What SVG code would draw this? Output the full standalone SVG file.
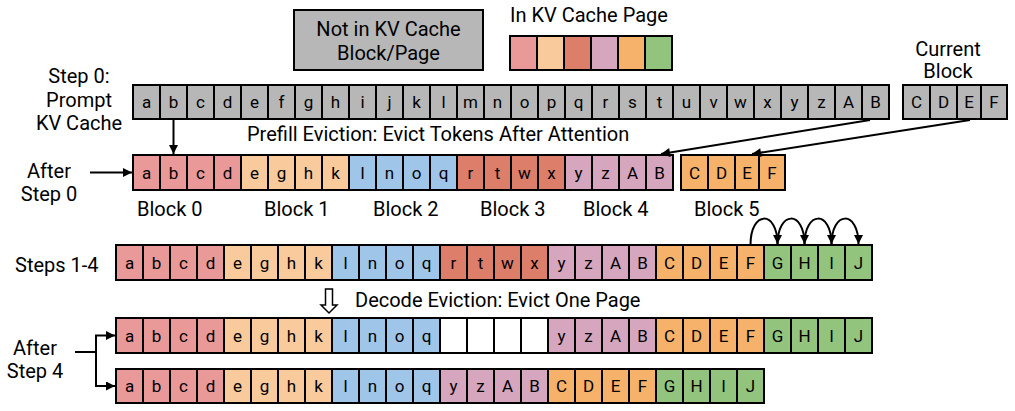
<svg xmlns="http://www.w3.org/2000/svg" width="1015" height="411" viewBox="0 0 1015 411">
<defs>
<style>
text{font-family:Roboto,"Liberation Sans",sans-serif;fill:#000}
.lbl{font-size:20px}
.c text{font-size:17px;text-anchor:middle}
.c rect{stroke:#000;stroke-width:2}
.gy{fill:#b7b7b7}.pk{fill:#ea9999}.lo{fill:#f9cb9c}.bl{fill:#9fc5e8}.rd{fill:#dd7e6b}.pu{fill:#d5a6bd}.or{fill:#f6b26b}.gr{fill:#93c47d}.wh{fill:#fff}
.ln{stroke:#000;stroke-width:2;fill:none}
</style>
<marker id="ah" viewBox="0 0 10 10" refX="10" refY="5" markerWidth="11" markerHeight="9" markerUnits="userSpaceOnUse" orient="auto"><path d="M0,0 L10,5 L0,10 z" fill="#000"/></marker>
</defs>
<rect width="1015" height="411" fill="#fff"/>

<g id="legend-not">
<rect x="294" y="10" width="189" height="60" class="gy" stroke="#000" stroke-width="2"/>
<text class="lbl" x="388.5" y="36" text-anchor="middle">Not in KV Cache</text>
<text class="lbl" x="388.5" y="60" text-anchor="middle">Block/Page</text>
</g>
<g id="legend-in" class="c">
<text class="lbl" x="510" y="22" style="font-size:20px;text-anchor:start">In KV Cache Page</text>
<rect x="510" y="36" width="27" height="34" class="pk"/>
<rect x="537" y="36" width="27" height="34" class="lo"/>
<rect x="564" y="36" width="27" height="34" class="rd"/>
<rect x="591" y="36" width="27" height="34" class="pu"/>
<rect x="618" y="36" width="27" height="34" class="or"/>
<rect x="645" y="36" width="27" height="34" class="gr"/>
</g>

<g id="labels">
<text class="lbl" x="79" y="83" text-anchor="middle">Step 0:</text>
<text class="lbl" x="79" y="107" text-anchor="middle">Prompt</text>
<text class="lbl" x="79" y="130" text-anchor="middle">KV Cache</text>
<text class="lbl" x="49" y="178" text-anchor="middle">After</text>
<text class="lbl" x="49" y="201" text-anchor="middle">Step 0</text>
<text class="lbl" x="948" y="56" text-anchor="middle">Current</text>
<text class="lbl" x="948" y="78" text-anchor="middle">Block</text>
<text class="lbl" x="247" y="141">Prefill Eviction: Evict Tokens After Attention</text>
<text class="lbl" x="137" y="216">Block 0</text>
<text class="lbl" x="264" y="216">Block 1</text>
<text class="lbl" x="373" y="216">Block 2</text>
<text class="lbl" x="480" y="216">Block 3</text>
<text class="lbl" x="583" y="216">Block 4</text>
<text class="lbl" x="694" y="216">Block 5</text>
<text class="lbl" x="15" y="272">Steps 1-4</text>
<text class="lbl" x="355" y="307">Decode Eviction: Evict One Page</text>
<text class="lbl" x="35" y="355" text-anchor="middle">After</text>
<text class="lbl" x="35" y="378" text-anchor="middle">Step 4</text>
</g>

<g id="row-prompt" class="c">
<rect x="133" y="85" width="27" height="34" class="gy"/><text x="146.5" y="108">a</text>
<rect x="160" y="85" width="27" height="34" class="gy"/><text x="173.5" y="108">b</text>
<rect x="187" y="85" width="27" height="34" class="gy"/><text x="200.5" y="108">c</text>
<rect x="214" y="85" width="27" height="34" class="gy"/><text x="227.5" y="108">d</text>
<rect x="241" y="85" width="27" height="34" class="gy"/><text x="254.5" y="108">e</text>
<rect x="268" y="85" width="27" height="34" class="gy"/><text x="281.5" y="108">f</text>
<rect x="295" y="85" width="27" height="34" class="gy"/><text x="308.5" y="108">g</text>
<rect x="322" y="85" width="27" height="34" class="gy"/><text x="335.5" y="108">h</text>
<rect x="349" y="85" width="27" height="34" class="gy"/><text x="362.5" y="108">i</text>
<rect x="376" y="85" width="27" height="34" class="gy"/><text x="389.5" y="108">j</text>
<rect x="403" y="85" width="27" height="34" class="gy"/><text x="416.5" y="108">k</text>
<rect x="430" y="85" width="27" height="34" class="gy"/><text x="443.5" y="108">l</text>
<rect x="457" y="85" width="27" height="34" class="gy"/><text x="470.5" y="108">m</text>
<rect x="484" y="85" width="27" height="34" class="gy"/><text x="497.5" y="108">n</text>
<rect x="511" y="85" width="27" height="34" class="gy"/><text x="524.5" y="108">o</text>
<rect x="538" y="85" width="27" height="34" class="gy"/><text x="551.5" y="108">p</text>
<rect x="565" y="85" width="27" height="34" class="gy"/><text x="578.5" y="108">q</text>
<rect x="592" y="85" width="27" height="34" class="gy"/><text x="605.5" y="108">r</text>
<rect x="619" y="85" width="27" height="34" class="gy"/><text x="632.5" y="108">s</text>
<rect x="646" y="85" width="27" height="34" class="gy"/><text x="659.5" y="108">t</text>
<rect x="673" y="85" width="27" height="34" class="gy"/><text x="686.5" y="108">u</text>
<rect x="700" y="85" width="27" height="34" class="gy"/><text x="713.5" y="108">v</text>
<rect x="727" y="85" width="27" height="34" class="gy"/><text x="740.5" y="108">w</text>
<rect x="754" y="85" width="27" height="34" class="gy"/><text x="767.5" y="108">x</text>
<rect x="781" y="85" width="27" height="34" class="gy"/><text x="794.5" y="108">y</text>
<rect x="808" y="85" width="27" height="34" class="gy"/><text x="821.5" y="108">z</text>
<rect x="835" y="85" width="27" height="34" class="gy"/><text x="848.5" y="108">A</text>
<rect x="862" y="85" width="27" height="34" class="gy"/><text x="875.5" y="108">B</text>
</g>
<g id="current-block" class="c">
<rect x="903" y="85" width="27" height="34" class="gy"/><text x="916.5" y="108">C</text>
<rect x="930" y="85" width="27" height="34" class="gy"/><text x="943.5" y="108">D</text>
<rect x="957" y="85" width="24" height="34" class="gy"/><text x="969" y="108">E</text>
<rect x="981" y="85" width="26" height="34" class="gy"/><text x="994" y="108">F</text>
</g>

<g id="row-after0" class="c">
<rect x="133" y="155" width="27" height="35" class="pk"/><text x="146.5" y="178.5">a</text>
<rect x="160" y="155" width="27" height="35" class="pk"/><text x="173.5" y="178.5">b</text>
<rect x="187" y="155" width="27" height="35" class="pk"/><text x="200.5" y="178.5">c</text>
<rect x="214" y="155" width="27" height="35" class="pk"/><text x="227.5" y="178.5">d</text>
<rect x="241" y="155" width="27" height="35" class="lo"/><text x="254.5" y="178.5">e</text>
<rect x="268" y="155" width="27" height="35" class="lo"/><text x="281.5" y="178.5">g</text>
<rect x="295" y="155" width="27" height="35" class="lo"/><text x="308.5" y="178.5">h</text>
<rect x="322" y="155" width="27" height="35" class="lo"/><text x="335.5" y="178.5">k</text>
<rect x="349" y="155" width="27" height="35" class="bl"/><text x="362.5" y="178.5">l</text>
<rect x="376" y="155" width="27" height="35" class="bl"/><text x="389.5" y="178.5">n</text>
<rect x="403" y="155" width="27" height="35" class="bl"/><text x="416.5" y="178.5">o</text>
<rect x="430" y="155" width="27" height="35" class="bl"/><text x="443.5" y="178.5">q</text>
<rect x="457" y="155" width="27" height="35" class="rd"/><text x="470.5" y="178.5">r</text>
<rect x="484" y="155" width="27" height="35" class="rd"/><text x="497.5" y="178.5">t</text>
<rect x="511" y="155" width="27" height="35" class="rd"/><text x="524.5" y="178.5">w</text>
<rect x="538" y="155" width="27" height="35" class="rd"/><text x="551.5" y="178.5">x</text>
<rect x="565" y="155" width="27" height="35" class="pu"/><text x="578.5" y="178.5">y</text>
<rect x="592" y="155" width="27" height="35" class="pu"/><text x="605.5" y="178.5">z</text>
<rect x="619" y="155" width="27" height="35" class="pu"/><text x="632.5" y="178.5">A</text>
<rect x="646" y="155" width="27" height="35" class="pu"/><text x="659.5" y="178.5">B</text>
<rect x="681" y="155" width="27" height="35" class="or"/><text x="694.5" y="178.5">C</text>
<rect x="708" y="155" width="27" height="35" class="or"/><text x="721.5" y="178.5">D</text>
<rect x="735" y="155" width="24" height="35" class="or"/><text x="747" y="178.5">E</text>
<rect x="759" y="155" width="26" height="35" class="or"/><text x="772" y="178.5">F</text>
</g>

<g id="row-steps14" class="c">
<rect x="116" y="245" width="27" height="35" class="pk"/><text x="129.5" y="268.5">a</text>
<rect x="143" y="245" width="27" height="35" class="pk"/><text x="156.5" y="268.5">b</text>
<rect x="170" y="245" width="27" height="35" class="pk"/><text x="183.5" y="268.5">c</text>
<rect x="197" y="245" width="27" height="35" class="pk"/><text x="210.5" y="268.5">d</text>
<rect x="224" y="245" width="27" height="35" class="lo"/><text x="237.5" y="268.5">e</text>
<rect x="251" y="245" width="27" height="35" class="lo"/><text x="264.5" y="268.5">g</text>
<rect x="278" y="245" width="27" height="35" class="lo"/><text x="291.5" y="268.5">h</text>
<rect x="305" y="245" width="27" height="35" class="lo"/><text x="318.5" y="268.5">k</text>
<rect x="332" y="245" width="27" height="35" class="bl"/><text x="345.5" y="268.5">l</text>
<rect x="359" y="245" width="27" height="35" class="bl"/><text x="372.5" y="268.5">n</text>
<rect x="386" y="245" width="27" height="35" class="bl"/><text x="399.5" y="268.5">o</text>
<rect x="413" y="245" width="27" height="35" class="bl"/><text x="426.5" y="268.5">q</text>
<rect x="440" y="245" width="27" height="35" class="rd"/><text x="453.5" y="268.5">r</text>
<rect x="467" y="245" width="27" height="35" class="rd"/><text x="480.5" y="268.5">t</text>
<rect x="494" y="245" width="27" height="35" class="rd"/><text x="507.5" y="268.5">w</text>
<rect x="521" y="245" width="27" height="35" class="rd"/><text x="534.5" y="268.5">x</text>
<rect x="548" y="245" width="27" height="35" class="pu"/><text x="561.5" y="268.5">y</text>
<rect x="575" y="245" width="27" height="35" class="pu"/><text x="588.5" y="268.5">z</text>
<rect x="602" y="245" width="27" height="35" class="pu"/><text x="615.5" y="268.5">A</text>
<rect x="629" y="245" width="27" height="35" class="pu"/><text x="642.5" y="268.5">B</text>
<rect x="656" y="245" width="27" height="35" class="or"/><text x="669.5" y="268.5">C</text>
<rect x="683" y="245" width="27" height="35" class="or"/><text x="696.5" y="268.5">D</text>
<rect x="710" y="245" width="27" height="35" class="or"/><text x="723.5" y="268.5">E</text>
<rect x="737" y="245" width="27" height="35" class="or"/><text x="750.5" y="268.5">F</text>
<rect x="764" y="245" width="27" height="35" class="gr"/><text x="777.5" y="268.5">G</text>
<rect x="791" y="245" width="27" height="35" class="gr"/><text x="804.5" y="268.5">H</text>
<rect x="818" y="245" width="27" height="35" class="gr"/><text x="831.5" y="268.5">I</text>
<rect x="845" y="245" width="27" height="35" class="gr"/><text x="858.5" y="268.5">J</text>
</g>

<g id="row-after4a" class="c">
<rect x="116" y="318" width="27" height="35" class="pk"/><text x="129.5" y="341.5">a</text>
<rect x="143" y="318" width="27" height="35" class="pk"/><text x="156.5" y="341.5">b</text>
<rect x="170" y="318" width="27" height="35" class="pk"/><text x="183.5" y="341.5">c</text>
<rect x="197" y="318" width="27" height="35" class="pk"/><text x="210.5" y="341.5">d</text>
<rect x="224" y="318" width="27" height="35" class="lo"/><text x="237.5" y="341.5">e</text>
<rect x="251" y="318" width="27" height="35" class="lo"/><text x="264.5" y="341.5">g</text>
<rect x="278" y="318" width="27" height="35" class="lo"/><text x="291.5" y="341.5">h</text>
<rect x="305" y="318" width="27" height="35" class="lo"/><text x="318.5" y="341.5">k</text>
<rect x="332" y="318" width="27" height="35" class="bl"/><text x="345.5" y="341.5">l</text>
<rect x="359" y="318" width="27" height="35" class="bl"/><text x="372.5" y="341.5">n</text>
<rect x="386" y="318" width="27" height="35" class="bl"/><text x="399.5" y="341.5">o</text>
<rect x="413" y="318" width="27" height="35" class="bl"/><text x="426.5" y="341.5">q</text>
<rect x="440" y="318" width="27" height="35" class="wh"/>
<rect x="467" y="318" width="27" height="35" class="wh"/>
<rect x="494" y="318" width="27" height="35" class="wh"/>
<rect x="521" y="318" width="27" height="35" class="wh"/>
<rect x="548" y="318" width="27" height="35" class="pu"/><text x="561.5" y="341.5">y</text>
<rect x="575" y="318" width="27" height="35" class="pu"/><text x="588.5" y="341.5">z</text>
<rect x="602" y="318" width="27" height="35" class="pu"/><text x="615.5" y="341.5">A</text>
<rect x="629" y="318" width="27" height="35" class="pu"/><text x="642.5" y="341.5">B</text>
<rect x="656" y="318" width="27" height="35" class="or"/><text x="669.5" y="341.5">C</text>
<rect x="683" y="318" width="27" height="35" class="or"/><text x="696.5" y="341.5">D</text>
<rect x="710" y="318" width="27" height="35" class="or"/><text x="723.5" y="341.5">E</text>
<rect x="737" y="318" width="27" height="35" class="or"/><text x="750.5" y="341.5">F</text>
<rect x="764" y="318" width="27" height="35" class="gr"/><text x="777.5" y="341.5">G</text>
<rect x="791" y="318" width="27" height="35" class="gr"/><text x="804.5" y="341.5">H</text>
<rect x="818" y="318" width="27" height="35" class="gr"/><text x="831.5" y="341.5">I</text>
<rect x="845" y="318" width="27" height="35" class="gr"/><text x="858.5" y="341.5">J</text>
</g>

<g id="row-after4b" class="c">
<rect x="116" y="369" width="27" height="34" class="pk"/><text x="129.5" y="392">a</text>
<rect x="143" y="369" width="27" height="34" class="pk"/><text x="156.5" y="392">b</text>
<rect x="170" y="369" width="27" height="34" class="pk"/><text x="183.5" y="392">c</text>
<rect x="197" y="369" width="27" height="34" class="pk"/><text x="210.5" y="392">d</text>
<rect x="224" y="369" width="27" height="34" class="lo"/><text x="237.5" y="392">e</text>
<rect x="251" y="369" width="27" height="34" class="lo"/><text x="264.5" y="392">g</text>
<rect x="278" y="369" width="27" height="34" class="lo"/><text x="291.5" y="392">h</text>
<rect x="305" y="369" width="27" height="34" class="lo"/><text x="318.5" y="392">k</text>
<rect x="332" y="369" width="27" height="34" class="bl"/><text x="345.5" y="392">l</text>
<rect x="359" y="369" width="27" height="34" class="bl"/><text x="372.5" y="392">n</text>
<rect x="386" y="369" width="27" height="34" class="bl"/><text x="399.5" y="392">o</text>
<rect x="413" y="369" width="27" height="34" class="bl"/><text x="426.5" y="392">q</text>
<rect x="440" y="369" width="27" height="34" class="pu"/><text x="453.5" y="392">y</text>
<rect x="467" y="369" width="27" height="34" class="pu"/><text x="480.5" y="392">z</text>
<rect x="494" y="369" width="27" height="34" class="pu"/><text x="507.5" y="392">A</text>
<rect x="521" y="369" width="27" height="34" class="pu"/><text x="534.5" y="392">B</text>
<rect x="548" y="369" width="27" height="34" class="or"/><text x="561.5" y="392">C</text>
<rect x="575" y="369" width="27" height="34" class="or"/><text x="588.5" y="392">D</text>
<rect x="602" y="369" width="27" height="34" class="or"/><text x="615.5" y="392">E</text>
<rect x="629" y="369" width="27" height="34" class="or"/><text x="642.5" y="392">F</text>
<rect x="656" y="369" width="27" height="34" class="gr"/><text x="669.5" y="392">G</text>
<rect x="683" y="369" width="27" height="34" class="gr"/><text x="696.5" y="392">H</text>
<rect x="710" y="369" width="27" height="34" class="gr"/><text x="723.5" y="392">I</text>
<rect x="737" y="369" width="27" height="34" class="gr"/><text x="750.5" y="392">J</text>
</g>

<g id="connectors">
<line class="ln" x1="173.5" y1="120" x2="173.5" y2="154" marker-end="url(#ah)"/>
<line class="ln" x1="90" y1="172.5" x2="132" y2="172.5" marker-end="url(#ah)"/>
<line class="ln" x1="870" y1="120" x2="661" y2="154" marker-end="url(#ah)"/>
<line class="ln" x1="970" y1="120" x2="752" y2="154" marker-end="url(#ah)"/>
<path class="ln" d="M750.5,245 C750.5,210 777.5,210 777.5,244" marker-end="url(#ah)"/>
<path class="ln" d="M777.5,245 C777.5,210 804.5,210 804.5,244" marker-end="url(#ah)"/>
<path class="ln" d="M804.5,245 C804.5,210 831.5,210 831.5,244" marker-end="url(#ah)"/>
<path class="ln" d="M831.5,245 C831.5,210 858.5,210 858.5,244" marker-end="url(#ah)"/>
<polygon points="325.5,289 332.5,289 332.5,305 337,305 329,313 321,305 325.5,305" fill="#fff" stroke="#000" stroke-width="1.5"/>
<path class="ln" d="M75,352 H96 M96,335 V386"/>
<line class="ln" x1="95" y1="335.5" x2="115" y2="335.5" marker-end="url(#ah)"/>
<line class="ln" x1="95" y1="386" x2="115" y2="386" marker-end="url(#ah)"/>
</g>
</svg>
